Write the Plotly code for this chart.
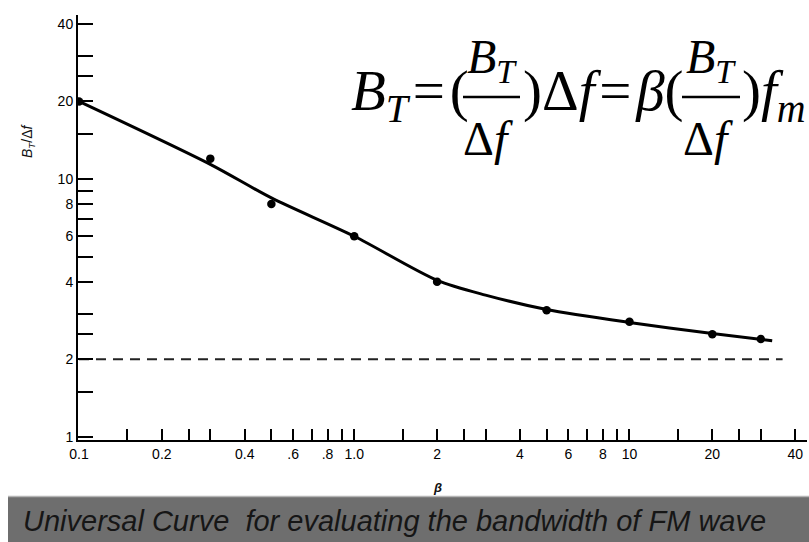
import plotly.graph_objects as go

# Sample points: modulation index beta vs normalised bandwidth B_T / delta-f
BETA = [0.1, 0.3, 0.5, 1.0, 2.0, 5.0, 10.0, 20.0, 30.0]
BT_OVER_DF = [20.0, 12.0, 8.0, 6.0, 4.0, 3.1, 2.8, 2.5, 2.4]

# Smooth universal curve drawn through the samples
CURVE_BETA = [0.1, 0.3, 0.5, 1.0, 2.0, 3.0, 5.0, 10.0, 20.0, 33.0]
CURVE_VAL = [20.0, 11.4, 8.45, 6.0, 4.05, 3.55, 3.12, 2.78, 2.52, 2.36]

# Asymptote B_T/delta-f -> 2 for large beta
ASYMPTOTE = 2.0
ASYM_BETA = [0.1, 36.0]

# Axis ticks: labelled major ticks and unlabelled minor ticks
X_MAJOR = [0.1, 0.2, 0.4, 0.6, 0.8, 1.0, 2, 4, 6, 8, 10, 20, 40]
X_TEXT = ["0.1", "0.2", "0.4", ".6", ".8", "1.0", "2", "4", "6", "8", "10", "20", "40"]
X_MINOR = [0.15, 0.25, 0.3, 0.5, 0.7, 0.9, 1.5, 2.5, 3, 5, 7, 9, 15, 25, 30]
Y_MAJOR = [1, 2, 4, 6, 8, 10, 20, 40]
Y_TEXT = ["1", "2", "4", "6", "8", "10", "20", "40"]
Y_MINOR = [1.5, 2.5, 3, 5, 7, 9, 15, 25, 30]

W, H = 809, 542
L, R, T, B = 78, 2, 15, 102
PW, PH = W - L - R, H - T - B


def px(xp):
    return (xp - L) / PW


def py(yp):
    return (H - B - yp) / PH


fig = go.Figure()

fig.add_trace(go.Scatter(
    x=ASYM_BETA, y=[ASYMPTOTE] * len(ASYM_BETA), mode="lines",
    line=dict(color="#222", width=2, dash="10px,7px"), hoverinfo="skip"))

fig.add_trace(go.Scatter(
    x=CURVE_BETA, y=CURVE_VAL, mode="lines",
    line=dict(color="#000", width=3, shape="spline", smoothing=0.8)))

fig.add_trace(go.Scatter(
    x=BETA, y=BT_OVER_DF, mode="markers",
    marker=dict(color="#000", size=8.5)))

tick_font = dict(family="Liberation Sans, Arial, sans-serif", size=14, color="#000")

fig.update_xaxes(
    type="log", range=[-1.0036, 1.645],
    tickmode="array", tickvals=X_MAJOR, ticktext=X_TEXT,
    ticks="inside", ticklen=11, tickwidth=1.5, tickcolor="#000",
    minor=dict(tickvals=X_MINOR, ticks="inside", ticklen=11, tickwidth=1.5,
               tickcolor="#000", showgrid=False),
    showline=True, linecolor="#000", linewidth=2,
    showgrid=False, zeroline=False, tickfont=tick_font)

fig.update_yaxes(
    type="log", range=[-0.0116, 1.636],
    tickmode="array", tickvals=Y_MAJOR, ticktext=Y_TEXT,
    ticks="inside", ticklen=15, tickwidth=2, tickcolor="#000",
    minor=dict(tickvals=Y_MINOR, ticks="inside", ticklen=15, tickwidth=2,
               tickcolor="#000", showgrid=False),
    showline=True, linecolor="#000", linewidth=2,
    showgrid=False, zeroline=False, tickfont=tick_font)

ann = []

# axis titles
ann.append(dict(x=px(28), y=py(141), xref="paper", yref="paper",
                xanchor="center", yanchor="middle",
                text="<i>B<sub>T</sub></i>/Δ<i>f</i>", textangle=-90,
                showarrow=False, font=dict(family="Liberation Sans", size=14, color="#111")))
ann.append(dict(x=px(437), y=py(487), xref="paper", yref="paper",
                xanchor="center", yanchor="middle",
                text="<b><i>β</i></b>", showarrow=False,
                font=dict(family="Liberation Sans", size=13, color="#111")))

SERIF = "Liberation Serif, Times New Roman, serif"


def piece(s, x, base, size, anchor="left", has_sub=False):
    # vertical centre of the text box relative to its baseline
    k = 0.2649 if has_sub else 0.3375
    ann.append(dict(
        x=px(x), y=py(base - k * size), xref="paper", yref="paper",
        xanchor=anchor, yanchor="middle", showarrow=False, text=s,
        font=dict(family=SERIF, size=size, color="#000")))


MS, NS, DS = 57, 48, 48  # main line, numerator and denominator sizes
HS = "\u200a"

# B_T = ( B_T / Δf ) Δf = β ( B_T / Δf ) f_m
piece(f"<i>B</i><sub><i>T</i></sub>{HS}={HS}(", 349, 110, MS, has_sub=True)
piece(f")Δ<i>f</i>{HS}={HS}<i>β</i>(", 521, 110, MS)
piece(")<i>f</i><sub><i>m</i></sub>", 740, 110, MS, has_sub=True)
for cx in (492, 711):
    piece("<i>B</i><sub><i>T</i></sub>", cx, 73, NS, anchor="center", has_sub=True)
for cx in (488, 708):
    piece("Δ<i>f</i>", cx, 155, DS, anchor="center")

# banner caption
ann.append(dict(
    x=px(21), y=py(531 - 0.3465 * 29), xref="paper", yref="paper",
    xanchor="left", yanchor="middle", showarrow=False,
    text="<i>Universal Curve\u00a0 for evaluating the bandwidth of FM wave</i>",
    font=dict(family="Liberation Sans, Arial, sans-serif", size=29, color="#161616")))

shapes = [
    # fraction bars
    dict(type="line", xref="paper", yref="paper",
         x0=px(463), x1=px(520), y0=py(97), y1=py(97), line=dict(color="#000", width=2.5)),
    dict(type="line", xref="paper", yref="paper",
         x0=px(682), x1=px(740), y0=py(97), y1=py(97), line=dict(color="#000", width=2.5)),
    # grey caption band
    dict(type="rect", xref="paper", yref="paper", layer="below",
         x0=px(8), x1=px(809), y0=py(496), y1=py(542),
         fillcolor="#6e6e6e", line=dict(width=0)),
    dict(type="line", xref="paper", yref="paper",
         x0=px(8), x1=px(809), y0=py(496.5), y1=py(496.5),
         line=dict(color="#b5b5b5", width=1.5)),
]

fig.update_layout(
    width=W, height=H, margin=dict(l=L, r=R, t=T, b=B),
    paper_bgcolor="#fff", plot_bgcolor="#fff",
    showlegend=False, annotations=ann, shapes=shapes)

fig.write_html("out.html")
